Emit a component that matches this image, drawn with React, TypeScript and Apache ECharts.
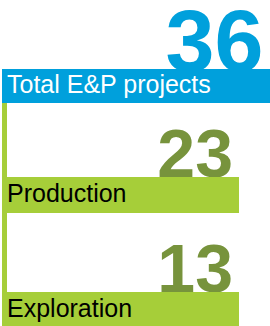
import React, { useEffect, useRef } from "react";
import * as echarts from "echarts";

const categories = ["Total E&P projects", "Production", "Exploration"];
const values = [36, 23, 13];

const barColors = ["#00a0dc", "#a6ce39", "#a6ce39"];
const numberColors = ["#00a0dc", "#77933c", "#77933c"];
const labelColors = ["#ffffff", "#000000", "#000000"];

// layout (pixels)
const barTops = [69, 177, 292];
const barHeights = [34, 36, 34];
const barWidths = [268, 237, 237];
const numberRight = [263.5, 233, 233];
const numberSizes = [88, 68, 68];
const labelSize = 25;
const font = "'Liberation Sans', Arial, Helvetica, sans-serif";

export default function App() {
  const ref = useRef<HTMLDivElement>(null);
  useEffect(() => {
    if (!ref.current) return;
    const chart = echarts.init(ref.current, null, { renderer: "svg" });
    const elements: any[] = [];
    // vertical connector
    elements.push({
      type: "rect",
      shape: { x: 2, y: barTops[0] + barHeights[0], width: 5, height: barTops[2] - barTops[0] - barHeights[0] },
      style: { fill: "#a6ce39" },
      z: 1,
    });
    categories.forEach((c, i) => {
      const base = barTops[i] + (i === 0 ? 2 : 0);
      elements.push({
        type: "text",
        x: numberRight[i],
        y: base - 0.3465 * numberSizes[i],
        style: {
          text: String(values[i]),
          fill: numberColors[i],
          font: `bold ${numberSizes[i]}px ${font}`,
          lineHeight: Math.round(numberSizes[i] * 0.75),
          align: "right",
          verticalAlign: "middle",
        },
        z: 2,
      });
      elements.push({
        type: "rect",
        shape: { x: 2, y: barTops[i], width: barWidths[i], height: barHeights[i] },
        style: { fill: barColors[i] },
        z: 3,
      });
      const baseline = barTops[i] + (i === 0 ? 23.3 : 24.7);
      elements.push({
        type: "text",
        x: 7,
        y: baseline - 0.3465 * labelSize,
        style: {
          text: c,
          fill: labelColors[i],
          font: `${labelSize}px ${font}`,
          lineHeight: 26,
          align: "left",
          verticalAlign: "middle",
        },
        z: 4,
      });
    });
    chart.setOption({
      animation: false,
      graphic: { elements },
    });
    return () => chart.dispose();
  }, []);
  return (
    <div
      ref={ref}
      style={{ position: "fixed", left: 0, top: 0, width: 270, height: 326, background: "#ffffff" }}
    />
  );
}
